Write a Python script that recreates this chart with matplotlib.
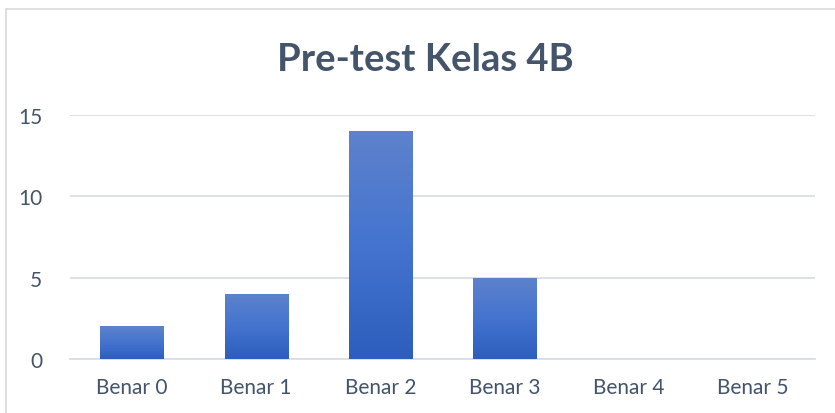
import numpy as np
import matplotlib.pyplot as plt
from matplotlib.colors import LinearSegmentedColormap
from matplotlib.patches import Rectangle

# datos del grafico
categories = ['Benar 0', 'Benar 1', 'Benar 2', 'Benar 3', 'Benar 4', 'Benar 5']
values = [2, 4, 14, 5, 0, 0]
yticks = [0, 5, 10, 15]

TEXT_COLOR = '#44546A'
GRID_COLOR = '#D9DEE6'

plt.rcParams['font.family'] = ['Lato', 'DejaVu Sans']

fig = plt.figure(figsize=(8.35, 4.14), dpi=100)
ax = fig.add_axes([70 / 835, 54 / 414, 745 / 835, 244 / 414])

# borde exterior del grafico
fig.patches.append(Rectangle((6 / 835, -0.05), 1.2, (404 / 414) + 0.05,
                             transform=fig.transFigure, fill=False,
                             edgecolor='#D9D9D9', linewidth=1.2))

x = np.arange(len(categories))
bars = ax.bar(x, values, width=0.51, color='none', zorder=3)

# degradado azul dentro de cada barra
cmap = LinearSegmentedColormap.from_list('grad', ['#2D5EBD', '#4474CF', '#5E82CC'])
grad = np.linspace(0, 1, 256).reshape(-1, 1)
for b in bars:
    if b.get_height() <= 0:
        continue
    x0, w, h = b.get_x(), b.get_width(), b.get_height()
    im = ax.imshow(grad, cmap=cmap, origin='lower', aspect='auto',
                   extent=[x0, x0 + w, 0, h], zorder=3)
    im.set_clip_path(b)

ax.set_xlim(-0.5, len(categories) - 0.5)
ax.set_ylim(0, 15)
ax.set_yticks(yticks)
ax.set_xticks(x)
ax.set_xticklabels(categories)

ax.yaxis.grid(True, color=GRID_COLOR, linewidth=1.3, zorder=0)
ax.set_axisbelow(True)
for s in ax.spines.values():
    s.set_visible(False)
ax.spines['bottom'].set_visible(True)
ax.spines['bottom'].set_color(GRID_COLOR)
ax.spines['bottom'].set_linewidth(1.3)

ax.tick_params(axis='both', length=0, labelsize=15, labelcolor=TEXT_COLOR)
ax.tick_params(axis='y', pad=20)
ax.tick_params(axis='x', pad=13)

fig.text(425 / 835, 1 - 60 / 414, 'Pre-test Kelas 4B', ha='center', va='center',
         fontsize=27.5, fontweight='bold', color=TEXT_COLOR)

fig.savefig('out.png', dpi=100, facecolor='white')
